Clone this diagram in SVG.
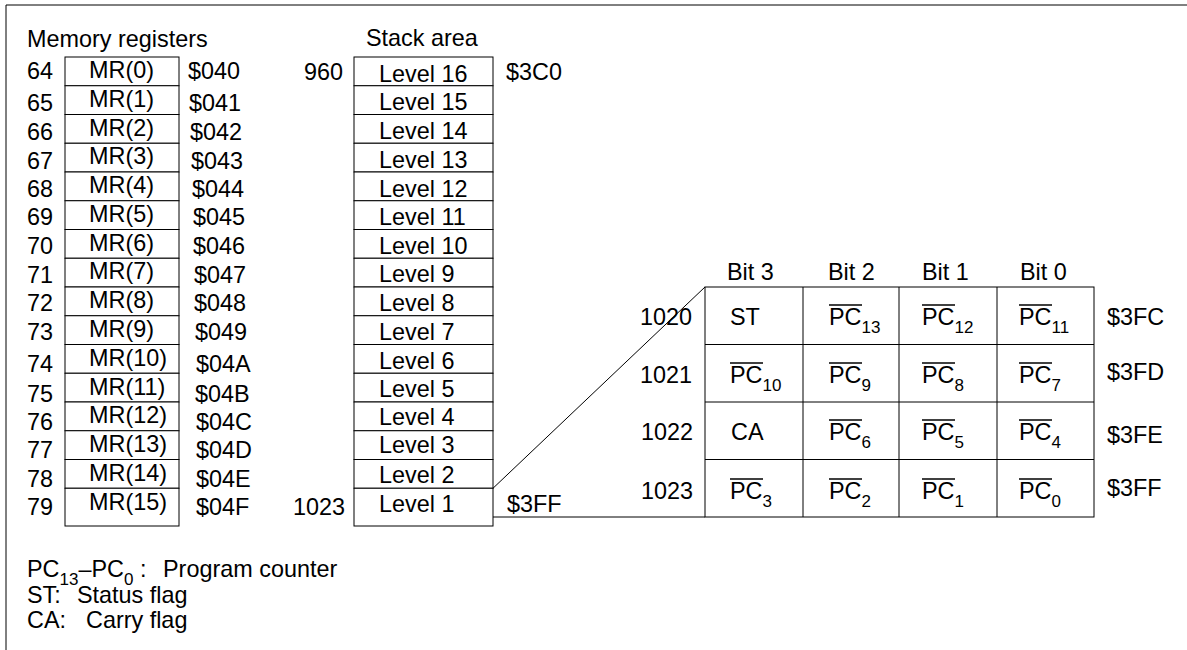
<svg xmlns="http://www.w3.org/2000/svg" width="1187" height="650" viewBox="0 0 1187 650">
<style>
text{font-family:"Liberation Sans",Arial,sans-serif;font-size:23.4px;fill:#000}
.sub{font-size:17px}
.box{fill:#fff;stroke:#000;stroke-width:1}
.ln{stroke:#000;stroke-width:1;fill:none}
.ov{stroke:#000;stroke-width:1.5}
.r{text-anchor:end}
</style>
<rect width="1187" height="650" fill="#fff"/>
<g id="frame">
<line class="ln" x1="6" y1="5" x2="1187" y2="5" stroke-width="1.6"/>
<line class="ln" x1="6" y1="5" x2="6" y2="650" stroke-width="1.6"/>
</g>
<g id="memory-registers">
<text x="27" y="47">Memory registers</text>
<g id="mr0"><rect class="box" x="65" y="57" width="114" height="28.75"/><text x="27" y="79">64</text><text x="89" y="78">MR(0)</text><text x="188" y="79">$040</text></g>
<g id="mr1"><rect class="box" x="65" y="85.75" width="114" height="28.75"/><text x="27" y="111">65</text><text x="89" y="107">MR(1)</text><text x="189" y="111">$041</text></g>
<g id="mr2"><rect class="box" x="65" y="114.5" width="114" height="28.75"/><text x="27" y="140">66</text><text x="89" y="135.5">MR(2)</text><text x="190" y="140">$042</text></g>
<g id="mr3"><rect class="box" x="65" y="143.25" width="114" height="28.75"/><text x="27" y="169">67</text><text x="89" y="164">MR(3)</text><text x="191" y="169">$043</text></g>
<g id="mr4"><rect class="box" x="65" y="172" width="114" height="28.75"/><text x="27" y="197">68</text><text x="89" y="193">MR(4)</text><text x="192" y="197">$044</text></g>
<g id="mr5"><rect class="box" x="65" y="200.75" width="114" height="28.75"/><text x="27" y="225">69</text><text x="89" y="221.5">MR(5)</text><text x="193" y="225">$045</text></g>
<g id="mr6"><rect class="box" x="65" y="229.5" width="114" height="28.75"/><text x="27" y="254">70</text><text x="89" y="250.5">MR(6)</text><text x="193" y="254">$046</text></g>
<g id="mr7"><rect class="box" x="65" y="258.25" width="114" height="28.75"/><text x="27" y="283">71</text><text x="89" y="279">MR(7)</text><text x="194" y="283">$047</text></g>
<g id="mr8"><rect class="box" x="65" y="287" width="114" height="28.75"/><text x="27" y="311">72</text><text x="89" y="308">MR(8)</text><text x="194" y="311">$048</text></g>
<g id="mr9"><rect class="box" x="65" y="315.75" width="114" height="28.75"/><text x="27" y="340">73</text><text x="89" y="337">MR(9)</text><text x="195" y="340">$049</text></g>
<g id="mr10"><rect class="box" x="65" y="344.5" width="114" height="28.75"/><text x="27" y="372">74</text><text x="89" y="366">MR(10)</text><text x="196" y="372">$04A</text></g>
<g id="mr11"><rect class="box" x="65" y="373.25" width="114" height="28.75"/><text x="27" y="402">75</text><text x="89" y="395">MR(11)</text><text x="195" y="402">$04B</text></g>
<g id="mr12"><rect class="box" x="65" y="402" width="114" height="28.75"/><text x="27" y="430">76</text><text x="89" y="423">MR(12)</text><text x="196" y="430">$04C</text></g>
<g id="mr13"><rect class="box" x="65" y="430.75" width="114" height="28.75"/><text x="27" y="458">77</text><text x="89" y="452">MR(13)</text><text x="196" y="458">$04D</text></g>
<g id="mr14"><rect class="box" x="65" y="459.5" width="114" height="28.75"/><text x="27" y="487">78</text><text x="89" y="481">MR(14)</text><text x="196" y="487">$04E</text></g>
<g id="mr15"><rect class="box" x="65" y="488.25" width="114" height="37.75"/><text x="27" y="515">79</text><text x="89" y="510">MR(15)</text><text x="196" y="515">$04F</text></g>
</g>
<g id="stack-area">
<text x="366" y="46">Stack area</text>
<g id="lv16"><rect class="box" x="354" y="57" width="139" height="28.75"/><text x="379" y="82">Level 16</text><text class="r" x="343" y="80">960</text><text x="506" y="80">$3C0</text></g>
<g id="lv15"><rect class="box" x="354" y="85.75" width="139" height="28.75"/><text x="379" y="110">Level 15</text></g>
<g id="lv14"><rect class="box" x="354" y="114.5" width="139" height="28.75"/><text x="379" y="139">Level 14</text></g>
<g id="lv13"><rect class="box" x="354" y="143.25" width="139" height="28.75"/><text x="379" y="168">Level 13</text></g>
<g id="lv12"><rect class="box" x="354" y="172" width="139" height="28.75"/><text x="379" y="197">Level 12</text></g>
<g id="lv11"><rect class="box" x="354" y="200.75" width="139" height="28.75"/><text x="379" y="225">Level 11</text></g>
<g id="lv10"><rect class="box" x="354" y="229.5" width="139" height="28.75"/><text x="379" y="254">Level 10</text></g>
<g id="lv9"><rect class="box" x="354" y="258.25" width="139" height="28.75"/><text x="379" y="282">Level 9</text></g>
<g id="lv8"><rect class="box" x="354" y="287" width="139" height="28.75"/><text x="379" y="311">Level 8</text></g>
<g id="lv7"><rect class="box" x="354" y="315.75" width="139" height="28.75"/><text x="379" y="340">Level 7</text></g>
<g id="lv6"><rect class="box" x="354" y="344.5" width="139" height="28.75"/><text x="379" y="369">Level 6</text></g>
<g id="lv5"><rect class="box" x="354" y="373.25" width="139" height="28.75"/><text x="379" y="397">Level 5</text></g>
<g id="lv4"><rect class="box" x="354" y="402" width="139" height="28.75"/><text x="379" y="425">Level 4</text></g>
<g id="lv3"><rect class="box" x="354" y="430.75" width="139" height="28.75"/><text x="379" y="453">Level 3</text></g>
<g id="lv2"><rect class="box" x="354" y="459.5" width="139" height="28.75"/><text x="379" y="483">Level 2</text></g>
<g id="lv1"><rect class="box" x="354" y="488.25" width="139" height="37.75"/><text x="379" y="512">Level 1</text><text class="r" x="345" y="515">1023</text><text x="507" y="512">$3FF</text></g>
</g>
<g id="connectors">
<line class="ln" x1="493" y1="488.25" x2="705" y2="287"/>
<line class="ln" x1="493" y1="517" x2="705" y2="517"/>
</g>
<g id="bit-table">
<g id="headers">
<text x="727" y="280">Bit 3</text><text x="828" y="280">Bit 2</text><text x="922" y="280">Bit 1</text><text x="1020" y="280">Bit 0</text>
</g>
<g id="grid">
<rect class="ln" x="705" y="287" width="389" height="230"/>
<line class="ln" x1="803" y1="287" x2="803" y2="517"/>
<line class="ln" x1="899" y1="287" x2="899" y2="517"/>
<line class="ln" x1="997" y1="287" x2="997" y2="517"/>
<line class="ln" x1="705" y1="344.5" x2="1094" y2="344.5"/>
<line class="ln" x1="705" y1="402" x2="1094" y2="402"/>
<line class="ln" x1="705" y1="459.5" x2="1094" y2="459.5"/>
</g>
<g id="row1020">
<text class="r" x="692" y="325">1020</text>
<text x="730" y="325">ST</text>
<text x="829" y="325">PC<tspan class="sub" dy="8">13</tspan></text><line class="ov" x1="829" y1="305" x2="862" y2="305"/>
<text x="922" y="325">PC<tspan class="sub" dy="8">12</tspan></text><line class="ov" x1="922" y1="305" x2="955" y2="305"/>
<text x="1019" y="325">PC<tspan class="sub" dy="8">11</tspan></text><line class="ov" x1="1019" y1="305" x2="1052" y2="305"/>
<text x="1107" y="325">$3FC</text>
</g>
<g id="row1021">
<text class="r" x="692" y="383">1021</text>
<text x="730" y="383">PC<tspan class="sub" dy="8">10</tspan></text><line class="ov" x1="730" y1="363" x2="763" y2="363"/>
<text x="829" y="383">PC<tspan class="sub" dy="8">9</tspan></text><line class="ov" x1="829" y1="363" x2="862" y2="363"/>
<text x="922" y="383">PC<tspan class="sub" dy="8">8</tspan></text><line class="ov" x1="922" y1="363" x2="955" y2="363"/>
<text x="1019" y="383">PC<tspan class="sub" dy="8">7</tspan></text><line class="ov" x1="1019" y1="363" x2="1052" y2="363"/>
<text x="1107" y="380">$3FD</text>
</g>
<g id="row1022">
<text class="r" x="693" y="440">1022</text>
<text x="731" y="440">CA</text>
<text x="829" y="440">PC<tspan class="sub" dy="8">6</tspan></text><line class="ov" x1="829" y1="420" x2="862" y2="420"/>
<text x="922" y="440">PC<tspan class="sub" dy="8">5</tspan></text><line class="ov" x1="922" y1="420" x2="955" y2="420"/>
<text x="1019" y="440">PC<tspan class="sub" dy="8">4</tspan></text><line class="ov" x1="1019" y1="420" x2="1052" y2="420"/>
<text x="1107" y="443">$3FE</text>
</g>
<g id="row1023">
<text class="r" x="693" y="499">1023</text>
<text x="730" y="499">PC<tspan class="sub" dy="8">3</tspan></text><line class="ov" x1="730" y1="479" x2="763" y2="479"/>
<text x="829" y="499">PC<tspan class="sub" dy="8">2</tspan></text><line class="ov" x1="829" y1="479" x2="862" y2="479"/>
<text x="922" y="499">PC<tspan class="sub" dy="8">1</tspan></text><line class="ov" x1="922" y1="479" x2="955" y2="479"/>
<text x="1019" y="499">PC<tspan class="sub" dy="8">0</tspan></text><line class="ov" x1="1019" y1="479" x2="1052" y2="479"/>
<text x="1107" y="496">$3FF</text>
</g>
</g>
<g id="legend">
<text x="27" y="577">PC<tspan class="sub" dy="8">13</tspan><tspan dy="-8">–PC</tspan><tspan class="sub" dy="8">0</tspan><tspan dy="-8"> :</tspan></text>
<text x="163" y="577">Program counter</text>
<text x="27" y="603">ST:</text><text x="77" y="603">Status flag</text>
<text x="27" y="628">CA:</text><text x="86" y="628">Carry flag</text>
</g>
</svg>
